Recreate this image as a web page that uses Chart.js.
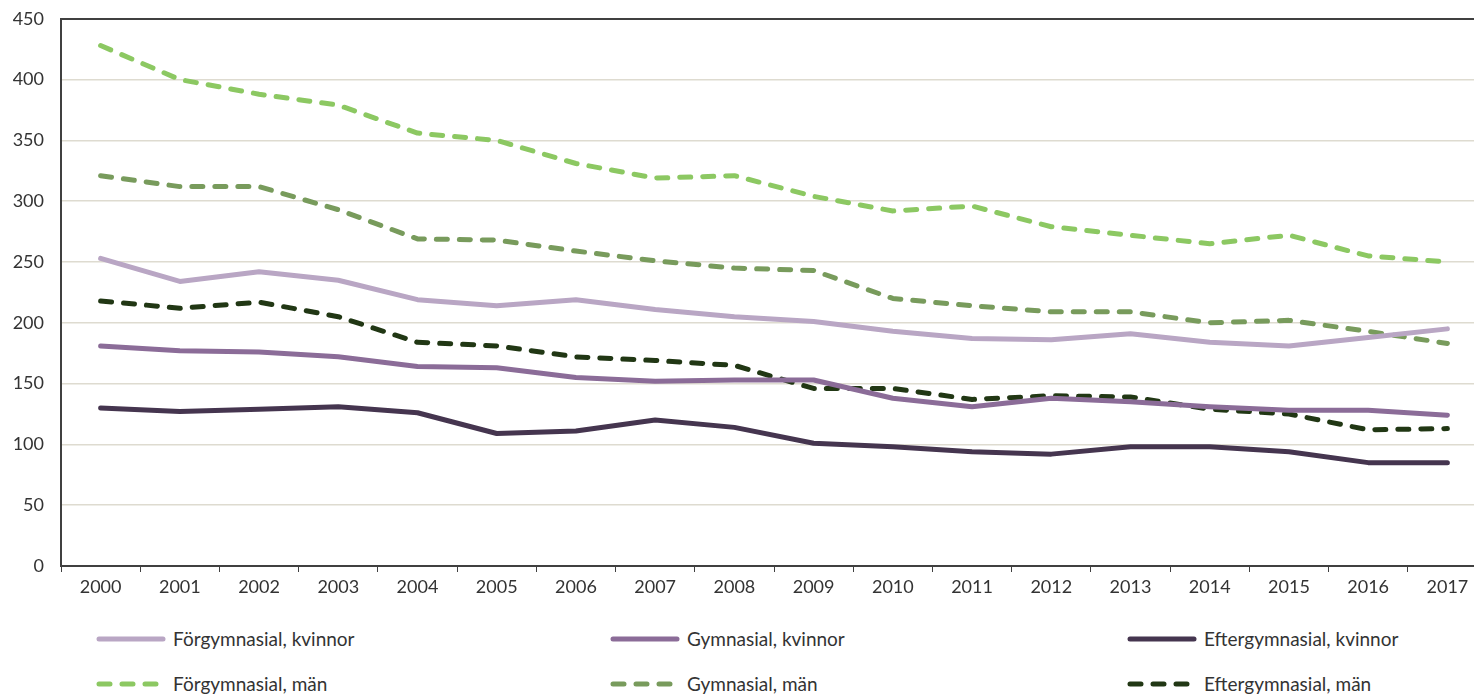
<!DOCTYPE html>
<html>
<head>
<meta charset="utf-8">
<script src="https://cdn.jsdelivr.net/npm/chart.js@4/dist/chart.umd.min.js"></script>
<style>
  html, body { margin: 0; padding: 0; background: #fff; overflow: hidden; }
  #wrap { position: relative; width: 1500px; height: 694px; overflow: hidden; }
  #chartBox { position: absolute; left: 0; top: -9px; width: 1500px; height: 619px; }
  #legend { position: absolute; left: 0; top: 620px; width: 1500px; font-family: Lato, sans-serif; font-size: 19px; color: #333; }
  .item { position: absolute; display: flex; align-items: center; white-space: nowrap; }
  .item canvas { margin-right: 7px; }
</style>
</head>
<body>
<div id="wrap">
  <div id="chartBox"><canvas id="chart"></canvas></div>
  <div id="legend"></div>
</div>
<script>
// Years on the x axis
const years = ['2000', '2001', '2002', '2003', '2004', '2005', '2006', '2007', '2008',
  '2009', '2010', '2011', '2012', '2013', '2014', '2015', '2016', '2017']

// Series
const forgymKvinnor = [253, 234, 242, 235, 219, 214, 219, 211, 205, 201, 193, 187, 186, 191, 184, 181, 188, 195]
const gymKvinnor = [181, 177, 176, 172, 164, 163, 155, 152, 153, 153, 138, 131, 138, 135, 131, 128, 128, 124]
const eftergymKvinnor = [130, 127, 129, 131, 126, 109, 111, 120, 114, 101, 98, 94, 92, 98, 98, 94, 85, 85]
const forgymMan = [428, 400, 388, 379, 356, 350, 331, 319, 321, 304, 292, 296, 279, 272, 265, 272, 255, 250]
const gymMan = [321, 312, 312, 293, 269, 268, 259, 251, 245, 243, 220, 214, 209, 209, 200, 202, 193, 183]
const eftergymMan = [218, 212, 217, 205, 184, 181, 172, 169, 165, 146, 146, 137, 140, 139, 129, 125, 112, 113]

const yTicks = [0, 50, 100, 150, 200, 250, 300, 350, 400, 450]

const dash = [11, 12]

const datasets = [
  { label: 'Förgymnasial, kvinnor', data: forgymKvinnor, borderColor: '#b9a6c4', borderDash: [] },
  { label: 'Gymnasial, kvinnor', data: gymKvinnor, borderColor: '#8b6c98', borderDash: [] },
  { label: 'Eftergymnasial, kvinnor', data: eftergymKvinnor, borderColor: '#45354f', borderDash: [] },
  { label: 'Förgymnasial, män', data: forgymMan, borderColor: '#8cc862', borderDash: dash },
  { label: 'Gymnasial, män', data: gymMan, borderColor: '#789b5c', borderDash: dash },
  { label: 'Eftergymnasial, män', data: eftergymMan, borderColor: '#213714', borderDash: dash }
].map(d => ({
  ...d,
  borderWidth: 5,
  borderCapStyle: 'round',
  borderJoinStyle: 'round',
  pointRadius: 0,
  tension: 0,
  fill: false
}))

const font = { family: 'Lato, sans-serif', size: 18 }

const chart = new Chart(document.getElementById('chart'), {
  type: 'line',
  data: { labels: years, datasets: datasets },
  options: {
    responsive: true,
    maintainAspectRatio: false,
    animation: false,
    layout: { padding: { top: 9, right: 13, bottom: 0, left: 0 } },
    plugins: {
      legend: { display: false },
      tooltip: { enabled: false }
    },
    scales: {
      x: {
        offset: true,
        grid: {
          offset: true,
          drawOnChartArea: false,
          drawTicks: true,
          tickLength: 6,
          color: '#404040'
        },
        border: { color: '#404040', width: 2 },
        ticks: { color: '#333', font: font, padding: 4, maxRotation: 0 },
        afterFit: (scale) => { scale.height = 44 }
      },
      y: {
        min: 0,
        max: 450,
        afterBuildTicks: (scale) => { scale.ticks = yTicks.map(v => ({ value: v })) },
        grid: {
          drawTicks: false,
          color: (ctx) => ctx.tick && ctx.tick.value === 450 ? '#404040' : '#dedbd0',
          lineWidth: (ctx) => ctx.tick && ctx.tick.value === 450 ? 2 : 1.5
        },
        border: { color: '#404040', width: 2 },
        ticks: { color: '#333', font: font, padding: 17 },
        afterFit: (scale) => { scale.width = 61 }
      }
    }
  }
})

// Legend in three columns, built from the datasets
const legendBox = document.getElementById('legend')
const colX = [96, 610, 1127]
const rowY = [0, 45]
chart.data.datasets.forEach((ds, i) => {
  const item = document.createElement('div')
  item.className = 'item'
  item.style.left = colX[i % 3] + 'px'
  item.style.top = (rowY[Math.floor(i / 3)] + 7) + 'px'
  const sw = document.createElement('canvas')
  sw.width = 70
  sw.height = 10
  const c = sw.getContext('2d')
  c.strokeStyle = ds.borderColor
  c.lineWidth = 5
  c.lineCap = 'round'
  c.setLineDash(ds.borderDash.length ? [11, 12] : [])
  c.beginPath()
  c.moveTo(3, 5)
  c.lineTo(67, 5)
  c.stroke()
  item.appendChild(sw)
  const txt = document.createElement('span')
  txt.textContent = ds.label
  item.appendChild(txt)
  legendBox.appendChild(item)
})
</script>
</body>
</html>
